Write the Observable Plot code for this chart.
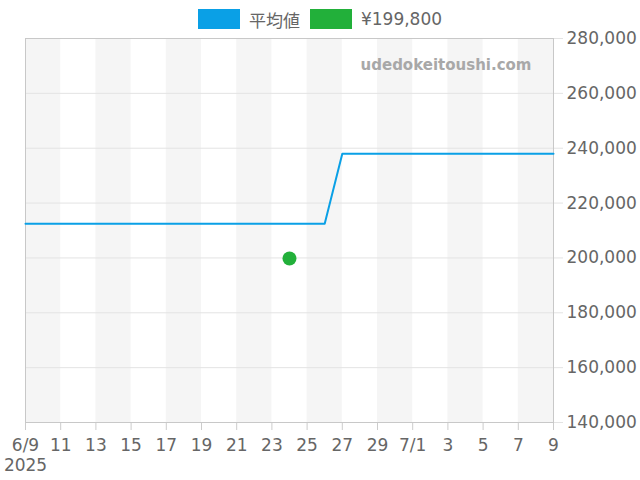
<!DOCTYPE html>
<html>
<head>
<meta charset="utf-8">
<script src="https://cdn.jsdelivr.net/npm/d3@7"></script>
<script src="https://cdn.jsdelivr.net/npm/@observablehq/plot@0.6"></script>
<style>
  html, body { margin: 0; padding: 0; background: #fff; }
  body { width: 640px; height: 480px; overflow: hidden; font-family: "DejaVu Sans", "Noto Sans CJK JP", sans-serif; }
  #legend { position: relative; z-index: 1; display: flex; justify-content: center; align-items: center; height: 20px; padding-top: 9px; padding-bottom: 1px; font-size: 17px; color: #666; }
  #chart { margin-top: -12px; }
  .sw { width: 42px; height: 20px; margin-right: 9px; }
  .item { display: flex; align-items: center; margin: 0 5px; }
</style>
</head>
<body>
<div id="legend"></div>
<div id="chart"></div>
<script>
const seriesNames = ["平均値", "¥199,800"];
const seriesColors = ["#0aa0e6", "#22b03a"];

const avgDates = ["2025-06-09","2025-06-10","2025-06-11","2025-06-12","2025-06-13","2025-06-14","2025-06-15","2025-06-16","2025-06-17","2025-06-18","2025-06-19","2025-06-20","2025-06-21","2025-06-22","2025-06-23","2025-06-24","2025-06-25","2025-06-26","2025-06-27","2025-06-28","2025-06-29","2025-06-30","2025-07-01","2025-07-02","2025-07-03","2025-07-04","2025-07-05","2025-07-06","2025-07-07","2025-07-08","2025-07-09"];
const avgValues = [212500,212500,212500,212500,212500,212500,212500,212500,212500,212500,212500,212500,212500,212500,212500,212500,212500,212500,238000,238000,238000,238000,238000,238000,238000,238000,238000,238000,238000,238000,238000];

const pointDates = ["2025-06-24"];
const pointValues = [199800];

const bandStarts = ["2025-06-09","2025-06-13","2025-06-17","2025-06-21","2025-06-25","2025-06-29","2025-07-03","2025-07-07"];
const bandEnds   = ["2025-06-11","2025-06-15","2025-06-19","2025-06-23","2025-06-27","2025-07-01","2025-07-05","2025-07-09"];

const xTickDates = ["2025-06-09","2025-06-11","2025-06-13","2025-06-15","2025-06-17","2025-06-19","2025-06-21","2025-06-23","2025-06-25","2025-06-27","2025-06-29","2025-07-01","2025-07-03","2025-07-05","2025-07-07","2025-07-09"];
const xTickLabels = ["6/9\n2025","11","13","15","17","19","21","23","25","27","29","7/1","3","5","7","9"];

const yTicks = [140000,160000,180000,200000,220000,240000,260000,280000];
const watermark = "udedokeitoushi.com";

const parse = d3.utcParse("%Y-%m-%d");
const avgData = avgDates.map((d, i) => ({date: parse(d), value: avgValues[i]}));
const pointData = pointDates.map((d, i) => ({date: parse(d), value: pointValues[i]}));
const bands = bandStarts.map((d, i) => ({x1: parse(d), x2: parse(bandEnds[i])}));
const tickDates = xTickDates.map(parse);
const labelMap = new Map(tickDates.map((d, i) => [+d, xTickLabels[i]]));

// legend
const legend = document.getElementById("legend");
seriesNames.forEach((n, i) => {
  const item = document.createElement("div");
  item.className = "item";
  const sw = document.createElement("div");
  sw.className = "sw";
  sw.style.background = seriesColors[i];
  const t = document.createElement("span");
  t.textContent = n;
  item.appendChild(sw);
  item.appendChild(t);
  legend.appendChild(item);
});

const chart = Plot.plot({
  width: 640,
  height: 462,
  marginTop: 20,
  marginBottom: 58,
  marginLeft: 25,
  marginRight: 87,
  style: {fontFamily: "DejaVu Sans, Noto Sans CJK JP, sans-serif", fontSize: "17px", background: "transparent"},
  x: {type: "utc", domain: [parse(avgDates[0]), parse(avgDates[avgDates.length - 1])]},
  y: {domain: [140000, 280000]},
  marks: [
    Plot.rectX(bands, {x1: "x1", x2: "x2", y1: 140000, y2: 280000, fill: "#f5f5f5"}),
    Plot.ruleY(yTicks, {stroke: "#e3e3e3", strokeWidth: 1}),
    Plot.axisY({anchor: "right", ticks: yTicks, tickSize: 9, tickPadding: 4, stroke: "#e3e3e3", strokeOpacity: 1, fill: "#666", tickFormat: d3.format(","), label: null}),
    Plot.axisX({ticks: tickDates, tickSize: 8, tickPadding: 6, stroke: "#ccc", strokeOpacity: 1, fill: "#666", lineHeight: 1.18, tickFormat: d => labelMap.get(+d), label: null}),
    Plot.frame({stroke: "#c8c8c8"}),
    Plot.text([watermark], {frameAnchor: "top-right", dx: -22, dy: 27, lineAnchor: "middle", fontWeight: "bold", fill: "#a8a8a8", fontSize: 15}),
    Plot.line(avgData, {x: "date", y: "value", stroke: seriesColors[0], strokeWidth: 2}),
    Plot.dot(pointData, {x: "date", y: "value", r: 7, fill: seriesColors[1], stroke: "none"})
  ]
});
document.getElementById("chart").appendChild(chart);
</script>
</body>
</html>
